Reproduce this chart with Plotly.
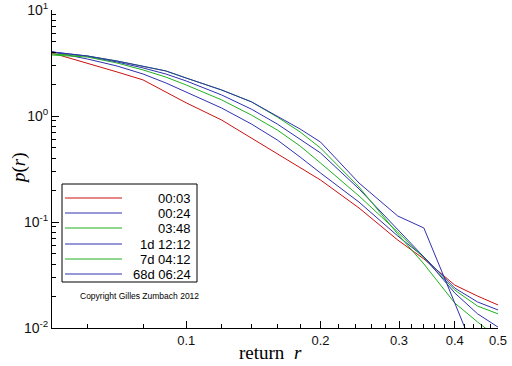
import plotly.graph_objects as go

# ---- data ----
returns = [0.05, 0.06, 0.07, 0.08, 0.09, 0.10, 0.12, 0.14, 0.16, 0.18, 0.20,
           0.244, 0.298, 0.341, 0.40, 0.45, 0.50]

p_0003 = [3.93, 3.16, 2.60, 2.19, 1.68, 1.33, 0.917, 0.620, 0.438, 0.330, 0.249,
          0.1355, 0.0676, 0.0448, 0.0254, 0.0200, 0.0165]
p_0024 = [4.02, 3.45, 2.96, 2.49, 2.05, 1.68, 1.19, 0.840, 0.594, 0.410, 0.290,
          0.154, 0.0738, 0.0468, 0.0238, 0.0176, 0.0148]
p_0348 = [3.76, 3.60, 3.16, 2.72, 2.33, 1.96, 1.42, 1.02, 0.738, 0.521, 0.360,
          0.176, 0.0805, 0.0457, 0.0228, 0.0161, 0.0136]
p_1d = [4.02, 3.68, 3.23, 2.84, 2.49, 2.14, 1.58, 1.16, 0.840, 0.607, 0.448,
        0.205, 0.0859, 0.0468, 0.0214, 0.0136, 0.0102]
p_7d = [3.85, 3.68, 3.30, 2.96, 2.66, 2.28, 1.76, 1.36, 0.978, 0.707, 0.499,
        0.214, 0.0770, 0.0402, 0.0172, 0.0114, 0.00805]
p_68d = [4.02, 3.68, 3.30, 2.96, 2.66, 2.28, 1.76, 1.36, 1.00, 0.754, 0.568,
         0.233, 0.1139, 0.0878, 0.0172, 0.00499, 0.00172]

series_names = ["00:03", "00:24", "03:48", "1d 12:12", "7d 04:12", "68d 06:24"]
series_values = [p_0003, p_0024, p_0348, p_1d, p_7d, p_68d]
series_colors = ["#cc1010", "#3030b0", "#20b020", "#3030b0", "#20b020", "#3030b0"]

x_major_ticks = [0.1, 0.2, 0.3, 0.4, 0.5]
x_major_labels = ["0.1", "0.2", "0.3", "0.4", "0.5"]
x_minor_ticks = [0.06, 0.08, 0.12, 0.14, 0.16, 0.18, 0.22, 0.24, 0.26, 0.28,
                 0.32, 0.34, 0.36, 0.38, 0.42, 0.44, 0.46, 0.48]
y_major_ticks = [0.01, 0.1, 1, 10]
y_major_labels = ["10<sup>-2</sup>", "10<sup>-1</sup>", "10<sup>0</sup>", "10<sup>1</sup>"]
y_minor_ticks = [m * d for d in (0.01, 0.1, 1) for m in range(2, 10)]

x_title = "return  <i>r</i>"
y_title = "<i>p</i>(<i>r</i>)"
copyright_text = "Copyright Gilles Zumbach 2012"

# ---- figure ----
W, H = 512, 366
ML, MR, MT, MB = 52, 14, 10, 38
PW, PH = W - ML - MR, H - MT - MB

fig = go.Figure()
for name, vals, col in zip(series_names, series_values, series_colors):
    fig.add_trace(go.Scatter(x=returns, y=vals, mode="lines", name=name,
                             line=dict(color=col, width=1), showlegend=False))

def px_to_paper(px, py):
    return (px - ML) / PW, (H - MB - py) / PH

# manual legend box (right-aligned labels like the original)
bx0, by0 = px_to_paper(62, 184)
bx1, by1 = px_to_paper(197, 282)
shapes = [dict(type="rect", xref="paper", yref="paper", x0=bx0, x1=bx1, y0=by1, y1=by0,
               line=dict(color="black", width=1), fillcolor="white", layer="above")]
annotations = []
row_y = [198, 213, 228, 244, 259, 274]
for name, col, ry in zip(series_names, series_colors, row_y):
    lx0, ly = px_to_paper(65, ry)
    lx1, _ = px_to_paper(122, ry)
    shapes.append(dict(type="line", xref="paper", yref="paper", x0=lx0, x1=lx1,
                       y0=ly, y1=ly, line=dict(color=col, width=1), layer="above"))
    tx, _ = px_to_paper(193, ry)
    annotations.append(dict(xref="paper", yref="paper", x=tx, y=ly, text=name,
                            showarrow=False, xanchor="right", yanchor="middle",
                            font=dict(family="Liberation Sans", size=13, color="black")))
cx, cy = px_to_paper(139, 296)
annotations.append(dict(xref="paper", yref="paper", x=cx, y=cy, text=copyright_text,
                        showarrow=False, xanchor="center", yanchor="middle",
                        font=dict(family="Liberation Sans", size=8.5, color="black")))

# axis titles placed like the original
xtx, xty = px_to_paper(270, 352)
annotations.append(dict(xref="paper", yref="paper", x=xtx, y=xty, text=x_title,
                        showarrow=False, xanchor="center", yanchor="middle",
                        font=dict(family="Liberation Serif", size=19, color="black")))
ytx, yty = px_to_paper(19, 168)
annotations.append(dict(xref="paper", yref="paper", x=ytx, y=yty, text=y_title,
                        showarrow=False, xanchor="center", yanchor="middle", textangle=-90,
                        font=dict(family="Liberation Serif", size=19, color="black")))

fig.update_layout(
    width=W, height=H,
    margin=dict(l=ML, r=MR, t=MT, b=MB, pad=0),
    paper_bgcolor="white", plot_bgcolor="white",
    shapes=shapes, annotations=annotations,
    showlegend=False,
    xaxis=dict(
        type="log", range=[-1.30103, -0.30103], automargin=False,
        showline=True, linecolor="black", linewidth=1, mirror=False,
        showgrid=False, zeroline=False, ticklabeloverflow="allow",
        tickmode="array", tickvals=x_major_ticks, ticktext=x_major_labels,
        ticks="inside", ticklen=7, tickcolor="black", tickwidth=1,
        minor=dict(tickmode="array", tickvals=x_minor_ticks, ticks="inside",
                   ticklen=4, tickcolor="black", tickwidth=1, showgrid=False),
        tickfont=dict(family="Liberation Sans", size=13, color="#111111"),
    ),
    yaxis=dict(
        type="log", range=[-2, 1], automargin=False,
        showline=True, linecolor="black", linewidth=1, mirror=False,
        showgrid=False, zeroline=False, ticklabeloverflow="allow",
        tickmode="array", tickvals=y_major_ticks, ticktext=y_major_labels,
        ticks="inside", ticklen=7, tickcolor="black", tickwidth=1,
        minor=dict(tickmode="array", tickvals=y_minor_ticks, ticks="inside",
                   ticklen=4, tickcolor="black", tickwidth=1, showgrid=False),
        tickfont=dict(family="Liberation Sans", size=14, color="#111111"),
    ),
)

# remove the browser's default 8px page margin so the figure sits at (0, 0)
fig.write_html("out.html", config={"displayModeBar": False},
               post_script="document.body.style.margin='0px';")
